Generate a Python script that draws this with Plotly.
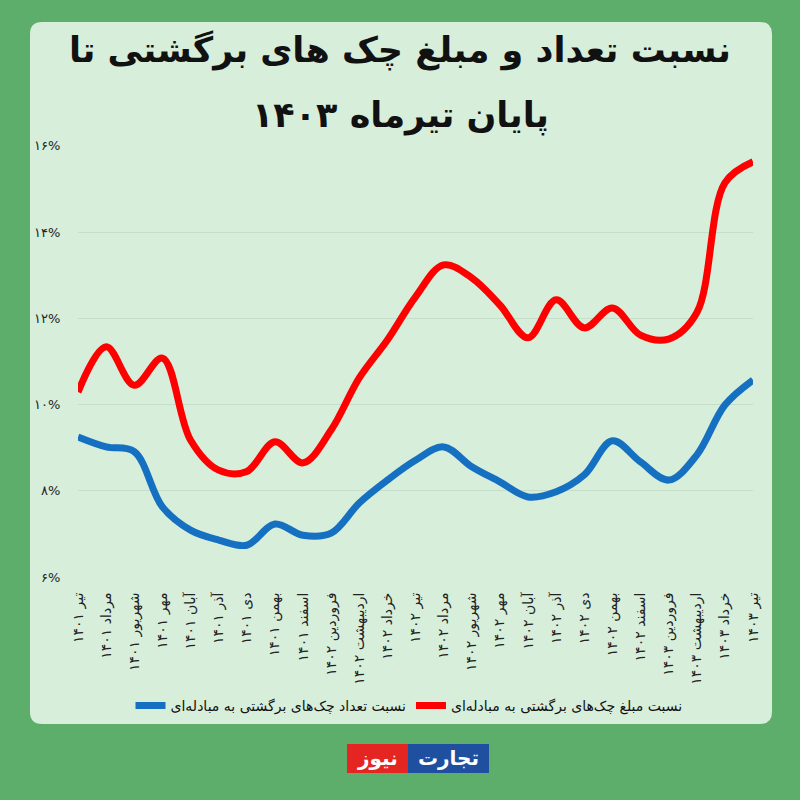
import plotly.graph_objects as go

# ---------------- data ----------------
categories = [
    "تیر ۱۴۰۱", "مرداد ۱۴۰۱", "شهریور ۱۴۰۱", "مهر ۱۴۰۱", "آبان ۱۴۰۱", "آذر ۱۴۰۱",
    "دی ۱۴۰۱", "بهمن ۱۴۰۱", "اسفند ۱۴۰۱", "فروردین ۱۴۰۲", "اردیبهشت ۱۴۰۲", "خرداد ۱۴۰۲",
    "تیر ۱۴۰۲", "مرداد ۱۴۰۲", "شهریور ۱۴۰۲", "مهر ۱۴۰۲", "آبان ۱۴۰۲", "آذر ۱۴۰۲",
    "دی ۱۴۰۲", "بهمن ۱۴۰۲", "اسفند ۱۴۰۲", "فروردین ۱۴۰۳", "اردیبهشت ۱۴۰۳", "خرداد ۱۴۰۳",
    "تیر ۱۴۰۳",
]
amount_ratio = [10.29, 11.34, 10.45, 11.08, 9.18, 8.48, 8.45, 9.14, 8.65, 9.41, 10.62, 11.50,
                12.50, 13.24, 12.94, 12.31, 11.55, 12.43, 11.78, 12.24, 11.61, 11.52, 12.13,
                15.14, 15.63]
count_ratio = [9.25, 9.02, 8.91, 7.63, 7.09, 6.86, 6.74, 7.23, 6.97, 7.02, 7.72, 8.25,
               8.71, 9.02, 8.56, 8.21, 7.86, 7.98, 8.37, 9.16, 8.67, 8.25, 8.83, 9.99, 10.57]
y_tickvals = [6, 8, 10, 12, 14, 16]
y_ticktext = ["۶%", "۸%", "۱۰%", "۱۲%", "۱۴%", "۱۶%"]

name_count = "نسبت تعداد چک‌های برگشتی به مبادله‌ای"
name_amount = "نسبت مبلغ چک‌های برگشتی به مبادله‌ای"
title_line1 = "نسبت تعداد و مبلغ چک های برگشتی تا"
title_line2 = "پایان تیرماه ۱۴۰۳"
logo_left = "نیوز"
logo_right = "تجارت"

# ---------------- layout geometry ----------------
W, H = 800, 800
PL, PR, PT, PB = 78, 753, 145, 578  # plot area in pixels
pw, ph = PR - PL, PB - PT
FONT = "DejaVu Sans"


def px(x):
    return (x - PL) / pw


def py(y):
    return (PB - y) / ph


def rounded_rect(x0, y0, x1, y1, r):
    pts = [
        f"M {px(x0 + r)},{py(y0)}",
        f"L {px(x1 - r)},{py(y0)}",
        f"Q {px(x1)},{py(y0)} {px(x1)},{py(y0 + r)}",
        f"L {px(x1)},{py(y1 - r)}",
        f"Q {px(x1)},{py(y1)} {px(x1 - r)},{py(y1)}",
        f"L {px(x0 + r)},{py(y1)}",
        f"Q {px(x0)},{py(y1)} {px(x0)},{py(y1 - r)}",
        f"L {px(x0)},{py(y0 + r)}",
        f"Q {px(x0)},{py(y0)} {px(x0 + r)},{py(y0)}",
        "Z",
    ]
    return " ".join(pts)


fig = go.Figure()
fig.add_trace(go.Scatter(
    x=categories, y=count_ratio, mode="lines", name=name_count,
    line=dict(color="#1570c1", width=7, shape="spline", smoothing=1.0),
))
fig.add_trace(go.Scatter(
    x=categories, y=amount_ratio, mode="lines", name=name_amount,
    line=dict(color="#ff0000", width=7, shape="spline", smoothing=1.0),
))

shapes = [
    dict(type="path", xref="paper", yref="paper", layer="below",
         path=rounded_rect(30, 22, 772, 724, 12),
         fillcolor="#d7eedb", line=dict(width=0)),
    dict(type="rect", xref="paper", yref="paper", layer="above",
         x0=px(347), x1=px(408), y0=py(773), y1=py(744),
         fillcolor="#e52521", line=dict(width=0)),
    dict(type="rect", xref="paper", yref="paper", layer="above",
         x0=px(408), x1=px(489), y0=py(773), y1=py(744),
         fillcolor="#1f4f9f", line=dict(width=0)),
]

annotations = [
    dict(text=f"<b>{title_line1}</b>", x=px(400), y=py(50), xref="paper", yref="paper",
         showarrow=False, font=dict(family=FONT, size=35, color="#111111"),
         xanchor="center", yanchor="middle"),
    dict(text=f"<b>{title_line2}</b>", x=px(400), y=py(116), xref="paper", yref="paper",
         showarrow=False, font=dict(family=FONT, size=35, color="#111111"),
         xanchor="center", yanchor="middle"),
    dict(text=f"<b>{logo_left}</b>", x=px(377.5), y=py(758), xref="paper", yref="paper",
         showarrow=False, font=dict(family=FONT, size=20, color="white"),
         xanchor="center", yanchor="middle"),
    dict(text=f"<b>{logo_right}</b>", x=px(448.5), y=py(758), xref="paper", yref="paper",
         showarrow=False, font=dict(family=FONT, size=20, color="white"),
         xanchor="center", yanchor="middle"),
]

fig.update_layout(
    width=W, height=H,
    margin=dict(l=PL, r=W - PR, t=PT, b=H - PB, pad=0),
    paper_bgcolor="#5dae6b",
    plot_bgcolor="rgba(0,0,0,0)",
    font=dict(family=FONT, color="#222222"),
    shapes=shapes,
    annotations=annotations,
    showlegend=True,
    legend=dict(orientation="h", x=px(409), xanchor="center", y=py(706), yanchor="middle",
                font=dict(family=FONT, size=14, color="#111111"),
                bgcolor="rgba(0,0,0,0)", itemwidth=30, traceorder="normal"),
    xaxis=dict(type="category", range=[0, len(categories) - 1], showgrid=False,
               showline=False, zeroline=False, tickangle=-90,
               ticks="outside", ticklen=8, tickcolor="rgba(0,0,0,0)",
               tickfont=dict(family=FONT, size=14, color="#222222")),
    yaxis=dict(range=[5.98, 16.02], tickvals=y_tickvals, ticktext=y_ticktext,
               showgrid=True, gridcolor="#c5ddc9", gridwidth=1, zeroline=False,
               showline=False, ticks="outside", ticklen=14, tickcolor="rgba(0,0,0,0)",
               tickfont=dict(family=FONT, size=13, color="#222222")),
)

fig.write_html("out.html")
